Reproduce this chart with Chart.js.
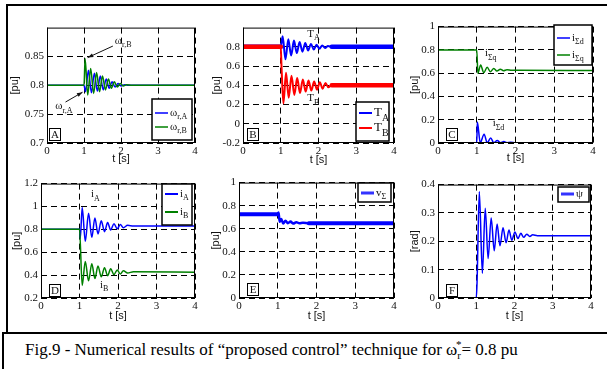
<!DOCTYPE html>
<html>
<head>
<meta charset="utf-8">
<script src="https://cdn.jsdelivr.net/npm/chart.js@4.4.0/dist/chart.umd.min.js"></script>
<style>
  body { margin: 0; background: #fff; }
  #fig { position: relative; width: 607px; height: 369px; overflow: hidden; background: #fff; }
  #fig canvas { position: absolute; }
  .rule { position: absolute; background: #000; }
  #caption { position: absolute; left: 25px; top: 338px; font-size: 17px; font-family: "Liberation Serif", "Times New Roman", Tinos, "DejaVu Serif", serif; color: #000; white-space: nowrap; }
  #caption sub, #caption sup { font-size: 11px; }
</style>
</head>
<body>
<div id="fig">
  <div class="rule" style="left:6px;top:4px;width:601px;height:2px"></div>
  <div class="rule" style="left:6px;top:4px;width:2px;height:330px"></div>
  <div class="rule" style="left:2px;top:332px;width:605px;height:2px"></div>
  <div class="rule" style="left:2px;top:332px;width:2px;height:37px"></div>
  <div id="caption">Fig.9 - Numerical results of “proposed control” technique for ω<sub>r</sub><sup style="margin-left:-5px">*</sup>= 0.8 pu</div>
</div>
<script>
// shared time axis ticks
const xTicks = [0, 1, 2, 3, 4];

// A - rotor speeds [pu]
const tOmegaA = [0, 1.0, 1.04, 1.12, 1.2, 1.28, 1.36, 1.44, 1.52, 1.6, 1.68, 1.76, 1.84, 1.92, 2.0, 2.1, 2.2, 4];
const omegaA = [0.8, 0.8, 0.789, 0.826, 0.787, 0.821, 0.79, 0.816, 0.792, 0.811, 0.795, 0.806, 0.797, 0.803, 0.799, 0.801, 0.8, 0.8];
const tOmegaB = [0, 1.0, 1.03, 1.1, 1.18, 1.26, 1.34, 1.42, 1.5, 1.58, 1.66, 1.74, 1.82, 1.9, 1.98, 2.06, 2.15, 2.3, 4];
const omegaB = [0.8, 0.8, 0.846, 0.783, 0.829, 0.786, 0.822, 0.789, 0.816, 0.792, 0.811, 0.795, 0.806, 0.797, 0.803, 0.799, 0.801, 0.8, 0.8];
const yTicksA = [0.7, 0.75, 0.8, 0.85];

// B - torques [pu]
const tTorqueA = [0, 1.0, 1.05, 1.125, 1.2, 1.275, 1.35, 1.425, 1.5, 1.575, 1.65, 1.725, 1.8, 1.875, 1.95, 2.025, 2.1, 2.175, 2.25, 2.35, 4];
const torqueA = [0.8, 0.8, 0.91, 0.67, 0.88, 0.71, 0.865, 0.735, 0.85, 0.75, 0.84, 0.762, 0.83, 0.772, 0.822, 0.78, 0.815, 0.788, 0.808, 0.8, 0.8];
const tTorqueB = [0, 1.0, 1.02, 1.07, 1.14, 1.21, 1.285, 1.36, 1.435, 1.51, 1.585, 1.66, 1.735, 1.81, 1.885, 1.96, 2.035, 2.11, 2.185, 2.26, 2.35, 4];
const torqueB = [0.8, 0.8, 0.6, 0.21, 0.53, 0.27, 0.5, 0.3, 0.475, 0.32, 0.46, 0.335, 0.45, 0.345, 0.44, 0.355, 0.432, 0.365, 0.425, 0.38, 0.4, 0.4];
const yTicksB = [-0.2, 0, 0.2, 0.4, 0.6, 0.8];

// C - sum currents d/q [pu]
const tIsd = [0, 1.0, 1.015, 1.09, 1.19, 1.27, 1.36, 1.44, 1.53, 1.61, 1.7, 1.78, 1.87, 2.0, 4];
const isd = [0, 0, 0.18, 0.003, 0.075, 0.003, 0.042, 0.003, 0.022, 0.003, 0.012, 0.003, 0.006, 0.002, 0.002];
const tIsq = [0, 1.0, 1.03, 1.1, 1.18, 1.27, 1.35, 1.44, 1.52, 1.61, 1.69, 1.78, 1.9, 2.1, 4];
const isq = [0.8, 0.8, 0.598, 0.67, 0.605, 0.65, 0.613, 0.64, 0.618, 0.634, 0.621, 0.63, 0.624, 0.626, 0.622];
const yTicksC = [0, 0.2, 0.4, 0.6, 0.8, 1];

// D - machine currents [pu]
const tIa = [0, 1.0, 1.02, 1.07, 1.15, 1.235, 1.32, 1.4, 1.48, 1.565, 1.65, 1.73, 1.81, 1.895, 1.98, 2.06, 2.14, 2.25, 2.4, 4];
const ia = [0.8, 0.8, 0.72, 0.99, 0.695, 0.94, 0.73, 0.9, 0.76, 0.875, 0.78, 0.86, 0.795, 0.85, 0.805, 0.843, 0.815, 0.835, 0.83, 0.83];
const tIb = [0, 1.0, 1.07, 1.15, 1.235, 1.32, 1.4, 1.48, 1.565, 1.65, 1.73, 1.81, 1.895, 1.98, 2.06, 2.14, 2.25, 2.4, 4];
const ib = [0.8, 0.8, 0.31, 0.52, 0.35, 0.5, 0.37, 0.48, 0.385, 0.465, 0.395, 0.455, 0.405, 0.445, 0.41, 0.438, 0.418, 0.43, 0.425];
const yTicksD = [0.2, 0.4, 0.6, 0.8, 1, 1.2];

// E - sum voltage [pu]
const tVs = [0, 1.0, 1.02, 1.05, 1.09, 1.14, 1.2, 1.26, 1.33, 1.4, 1.48, 1.56, 1.65, 1.8, 4];
const vs = [0.725, 0.725, 0.74, 0.66, 0.685, 0.645, 0.67, 0.648, 0.662, 0.645, 0.657, 0.647, 0.652, 0.648, 0.647];
const yTicksE = [0, 0.2, 0.4, 0.6, 0.8, 1];

// F - angle psi [rad]
const tPsi = [0, 1.0, 1.02, 1.08, 1.16, 1.235, 1.31, 1.39, 1.47, 1.545, 1.62, 1.7, 1.78, 1.855, 1.93, 2.01, 2.09, 2.165, 2.24, 2.32, 2.4, 2.475, 2.6, 4];
const psi = [0, 0, 0.05, 0.376, 0.087, 0.317, 0.139, 0.282, 0.167, 0.261, 0.184, 0.248, 0.195, 0.24, 0.204, 0.233, 0.21, 0.228, 0.214, 0.225, 0.217, 0.223, 0.22, 0.22];
const yTicksF = [0, 0.1, 0.2, 0.3, 0.4];

const BLUE = '#0000ff', GREEN = '#008000', RED = '#ff0000';
const serif = '"Liberation Serif", "Times New Roman", Tinos, "DejaVu Serif", serif';
const sans = '"Liberation Sans", Arial, "DejaVu Sans", sans-serif';
const PAD_L = 40, PAD_T = 8, PAD_R = 6, PAD_B = 30;
const fig = document.getElementById('fig');

function pts(ts, vs) { return ts.map((t, i) => ({ x: t, y: vs[i] })); }

// thicker stroke where the trace is flat (ripple band in the original)
function flatWidth(thick, thin) {
    return { borderWidth: c => Math.abs(c.p0.parsed.y - c.p1.parsed.y) < 0.004 ? thick : thin };
}

function label(ctx, base, sub, x, y, size) {
    ctx.textAlign = 'left';
    ctx.textBaseline = 'middle';
    ctx.font = size + 'px ' + serif;
    ctx.fillText(base, x, y);
    if (sub) {
        const w = ctx.measureText(base).width;
        ctx.font = Math.round(size * 0.75) + 'px ' + serif;
        ctx.fillText(sub, x + w, y + size * 0.4);
    }
}

const decorPlugin = {
    id: 'decor',
    afterDraw(chart, args, o) {
        const ctx = chart.ctx, a = chart.chartArea;
        const sx = chart.scales.x, sy = chart.scales.y;
        ctx.save();
        ctx.setLineDash([]);
        // plot frame
        ctx.strokeStyle = '#000';
        ctx.lineWidth = 1;
        ctx.strokeRect(a.left + 0.5, a.top + 0.5, a.right - a.left - 1, a.bottom - a.top - 1);

        // axis titles
        ctx.fillStyle = '#111';
        ctx.font = '11px ' + sans;
        ctx.textAlign = 'center';
        ctx.textBaseline = 'middle';
        ctx.fillText('t [s]', (a.left + a.right) / 2, a.bottom + o.xGap);
        ctx.save();
        ctx.translate(a.left - o.yGap, (a.top + a.bottom) / 2);
        ctx.rotate(-Math.PI / 2);
        ctx.fillText(o.yTitle, 0, 0);
        ctx.restore();

        // in-plot notes and arrows
        ctx.fillStyle = '#111';
        (o.notes || []).forEach(n => {
            label(ctx, n.base, n.sub, sx.getPixelForValue(n.t), sy.getPixelForValue(n.v), 11);
        });
        (o.arrows || []).forEach(ar => {
            const x1 = sx.getPixelForValue(ar[0]), y1 = sy.getPixelForValue(ar[1]);
            const x2 = sx.getPixelForValue(ar[2]), y2 = sy.getPixelForValue(ar[3]);
            const ang = Math.atan2(y2 - y1, x2 - x1);
            ctx.strokeStyle = '#111';
            ctx.lineWidth = 1;
            ctx.beginPath(); ctx.moveTo(x1, y1); ctx.lineTo(x2, y2); ctx.stroke();
            ctx.beginPath();
            ctx.moveTo(x2, y2);
            ctx.lineTo(x2 - 6 * Math.cos(ang - 0.35), y2 - 6 * Math.sin(ang - 0.35));
            ctx.lineTo(x2 - 6 * Math.cos(ang + 0.35), y2 - 6 * Math.sin(ang + 0.35));
            ctx.closePath();
            ctx.fill();
        });

        // panel letter
        const lx = o.letterAt[0] - o.ox, ly = o.letterAt[1] - o.oy;
        ctx.fillStyle = '#fff';
        ctx.fillRect(lx, ly, 12, 12);
        ctx.strokeStyle = '#000';
        ctx.strokeRect(lx + 0.5, ly + 0.5, 11, 12);
        ctx.fillStyle = '#111';
        ctx.font = '11px ' + serif;
        ctx.textAlign = 'center';
        ctx.fillText(o.letter, lx + 6, ly + 7);

        // legend
        const b = o.legend.box;
        const bl = b[0] - o.ox, bt = b[1] - o.oy, bw = b[2] - b[0], bh = b[3] - b[1];
        ctx.fillStyle = '#fff';
        ctx.fillRect(bl, bt, bw, bh);
        ctx.strokeStyle = '#000';
        ctx.lineWidth = 1.5;
        ctx.strokeRect(bl, bt, bw, bh);
        o.legend.items.forEach(it => {
            const y = it.y - o.oy;
            ctx.strokeStyle = it.color;
            ctx.lineWidth = it.w;
            ctx.beginPath(); ctx.moveTo(bl + 3, y); ctx.lineTo(bl + 16, y); ctx.stroke();
            ctx.fillStyle = '#111';
            label(ctx, it.base, it.sub, bl + 18, y, it.size || 11);
        });
        ctx.restore();
    }
};

function axis(min, max, ticks, isX) {
    return {
        type: 'linear', min: min, max: max,
        afterBuildTicks: s => { s.ticks = ticks.map(v => ({ value: v })); },
        afterFit: s => { if (isX) s.height = PAD_B; else s.width = PAD_L; },
        ticks: {
            font: { family: serif, size: 11 }, color: '#111',
            padding: isX ? 2 : 3, maxRotation: 0, autoSkip: false,
            callback: v => String(v)
        },
        grid: { color: '#000', lineWidth: 1, drawTicks: false },
        border: { display: false, dash: [6, 4] }
    };
}

function panel(rect, yMin, yMax, yTicks, datasets, deco) {
    const cv = document.createElement('canvas');
    const w = rect.r - rect.l + PAD_L + PAD_R;
    const h = rect.b - rect.t + PAD_T + PAD_B;
    deco.ox = rect.l - PAD_L;
    deco.oy = rect.t - PAD_T;
    cv.width = w; cv.height = h;
    cv.style.left = deco.ox + 'px'; cv.style.top = deco.oy + 'px';
    cv.style.width = w + 'px'; cv.style.height = h + 'px';
    fig.appendChild(cv);
    return new Chart(cv, {
        type: 'line',
        data: { datasets: datasets },
        options: {
            responsive: false, animation: false, events: [],
            layout: { padding: { left: 0, top: PAD_T, right: PAD_R, bottom: 0 } },
            elements: { point: { radius: 0 }, line: { cubicInterpolationMode: 'monotone', borderJoinStyle: 'round', borderCapStyle: 'round' } },
            plugins: { legend: { display: false }, tooltip: { enabled: false }, decor: deco },
            scales: { x: axis(0, 4, xTicks, true), y: axis(yMin, yMax, yTicks, false) }
        },
        plugins: [decorPlugin]
    });
}

// --- A ---
panel({ l: 47, t: 26, r: 195, b: 143 }, 0.7, 0.9, yTicksA, [
    { data: pts(tOmegaB, omegaB), borderColor: GREEN, borderWidth: 1.5, order: 0 },
    { data: pts(tOmegaA, omegaA), borderColor: BLUE, borderWidth: 1.5, order: 1 }
], {
    yTitle: '[pu]', yGap: 32, xGap: 16, letter: 'A', letterAt: [49, 128],
    notes: [{ t: 1.83, v: 0.877, base: 'ω', sub: 'r,B' }, { t: 0.22, v: 0.764, base: 'ω', sub: 'r,A' }],
    arrows: [[1.78, 0.868, 1.1, 0.848], [0.5, 0.771, 0.96, 0.788]],
    legend: { box: [152, 99, 192, 140], items: [
        { color: BLUE, w: 1.5, base: 'ω', sub: 'r,A', y: 113 },
        { color: GREEN, w: 1.5, base: 'ω', sub: 'r,B', y: 127 }] }
});

// --- B ---
panel({ l: 243, t: 26, r: 394, b: 143 }, -0.2, 1.0, yTicksB, [
    { data: pts(tTorqueB, torqueB), borderColor: RED, borderWidth: 2, segment: flatWidth(4.5, 2), order: 0 },
    { data: pts(tTorqueA, torqueA), borderColor: BLUE, borderWidth: 2, segment: flatWidth(4.5, 2), order: 1 }
], {
    yTitle: '[pu]', yGap: 26, xGap: 17, letter: 'B', letterAt: [247, 128],
    notes: [{ t: 1.7, v: 0.935, base: 'T', sub: 'A' }, { t: 1.7, v: 0.265, base: 'T', sub: 'B' }],
    legend: { box: [356, 102, 389, 141], items: [
        { color: BLUE, w: 2, base: 'T', sub: 'A', y: 113, size: 13 },
        { color: RED, w: 2, base: 'T', sub: 'B', y: 128, size: 13 }] }
});

// --- C ---
panel({ l: 438, t: 25, r: 593, b: 143 }, 0, 1, yTicksC, [
    { data: pts(tIsd, isd), borderColor: BLUE, borderWidth: 1.5, order: 1 },
    { data: pts(tIsq, isq), borderColor: GREEN, borderWidth: 1.5, order: 0 }
], {
    yTitle: '[pu]', yGap: 23, xGap: 15, letter: 'C', letterAt: [446, 128],
    notes: [{ t: 1.21, v: 0.77, base: 'i', sub: 'Σq' }, { t: 1.41, v: 0.17, base: 'i', sub: 'Σd' }],
    legend: { box: [554, 25, 592, 65], items: [
        { color: BLUE, w: 1.5, base: 'i', sub: 'Σd', y: 38 },
        { color: GREEN, w: 1.5, base: 'i', sub: 'Σq', y: 55 }] }
});

// --- D ---
panel({ l: 41, t: 182, r: 195, b: 298 }, 0.2, 1.2, yTicksD, [
    { data: pts(tIb, ib), borderColor: GREEN, borderWidth: 1.5, order: 0 },
    { data: pts(tIa, ia), borderColor: BLUE, borderWidth: 1.5, order: 1 }
], {
    yTitle: '[pu]', yGap: 24, xGap: 18, letter: 'D', letterAt: [49, 284],
    notes: [{ t: 1.3, v: 1.105, base: 'i', sub: 'A' }, { t: 1.53, v: 0.315, base: 'i', sub: 'B' }],
    legend: { box: [162, 184, 192, 225], items: [
        { color: BLUE, w: 2, base: 'i', sub: 'A', y: 194 },
        { color: GREEN, w: 2, base: 'i', sub: 'B', y: 212 }] }
});

// --- E ---
panel({ l: 239, t: 181, r: 394, b: 298 }, 0, 1, yTicksE, [
    { data: pts(tVs, vs), borderColor: BLUE, borderWidth: 2.5, segment: flatWidth(4, 2.5) }
], {
    yTitle: '[pu]', yGap: 23, xGap: 18, letter: 'E', letterAt: [247, 283],
    legend: { box: [358, 183, 391, 202], items: [
        { color: '#3333ff', w: 3, base: 'v', sub: 'Σ', y: 193 }] }
});

// --- F ---
panel({ l: 438, t: 183, r: 591, b: 298 }, 0, 0.4, yTicksF, [
    { data: pts(tPsi, psi), borderColor: BLUE, borderWidth: 1.5 }
], {
    yTitle: '[rad]', yGap: 23, xGap: 18, letter: 'F', letterAt: [446, 284],
    legend: { box: [558, 187, 589, 202], items: [
        { color: '#3333ff', w: 3, base: 'ψ', sub: '', y: 194 }] }
});
</script>
</body>
</html>
